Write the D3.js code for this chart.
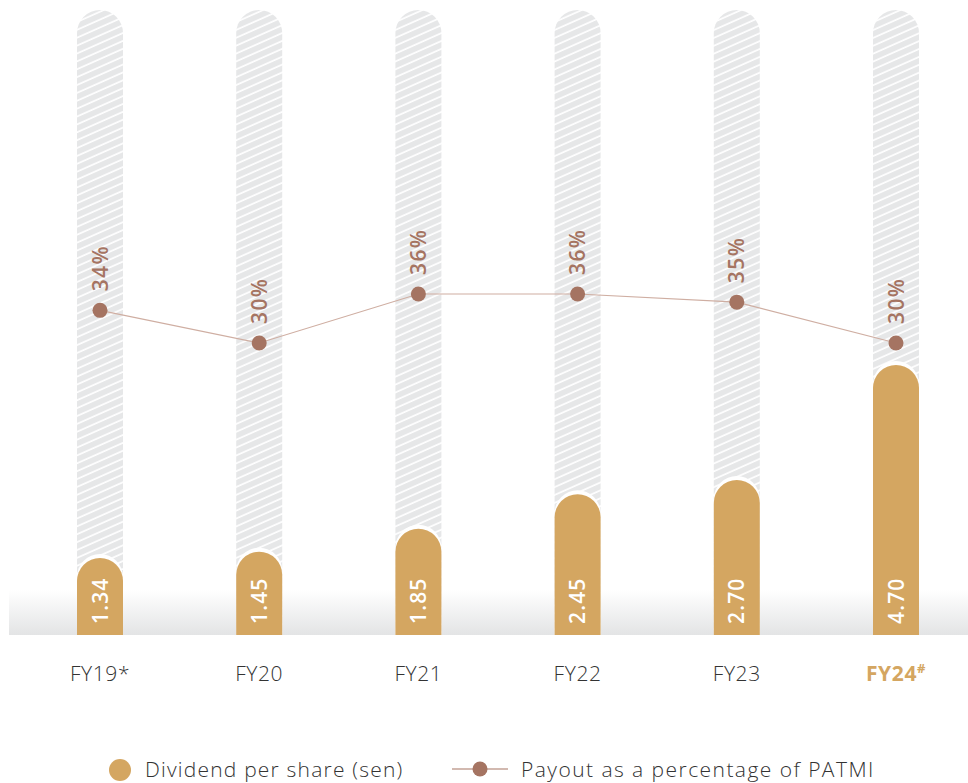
<!DOCTYPE html>
<html>
<head>
<meta charset="utf-8">
<script src="https://cdn.jsdelivr.net/npm/d3@7/dist/d3.min.js"></script>
<style>
  html, body { margin: 0; padding: 0; background: #fff; }
  svg { display: block; font-family: "Open Sans", Lato, sans-serif; }
</style>
</head>
<body>
<svg id="chart" width="968" height="783"></svg>
<script>
// Dividend per share (sen) and payout ratio (% of PATMI)
const years = ["FY19*", "FY20", "FY21", "FY22", "FY23", "FY24#"];
const dividend = [1.34, 1.45, 1.85, 2.45, 2.70, 4.70];
const payout = [34, 30, 36, 36, 35, 30];
const legendLabels = ["Dividend per share (sen)", "Payout as a percentage of PATMI"];

const gold = "#d4a661";
const brown = "#a57462";
const lineCol = "#cfaea2";
const hatchBg = "#e6e7e8";

const svg = d3.select("#chart");
const W = 968, H = 783;
const baseY = 635, topY = 10;
const barW = 46;

const x = d3.scalePoint().domain(years).range([100, 896]);
const y = d3.scaleLinear().domain([0, 4.70]).range([baseY, 365]);
const yp = d3.scaleLinear().domain([30, 36]).range([343, 294]);

const defs = svg.append("defs");
const pat = defs.append("pattern")
  .attr("id", "hatch")
  .attr("patternUnits", "userSpaceOnUse")
  .attr("width", 12).attr("height", 7.2)
  .attr("patternTransform", "rotate(-24)");
pat.append("rect").attr("width", 12).attr("height", 7.2).attr("fill", hatchBg);
pat.append("line").attr("x1", 0).attr("x2", 12).attr("y1", 1).attr("y2", 1)
  .attr("stroke", "#fff").attr("stroke-width", 1.7);

const grad = defs.append("linearGradient").attr("id", "floor")
  .attr("x1", 0).attr("x2", 0).attr("y1", 0).attr("y2", 1);
grad.append("stop").attr("offset", "0%").attr("stop-color", "#fff");
grad.append("stop").attr("offset", "100%").attr("stop-color", "#e3e4e5");

// rounded-top column path
function capsule(cx, top, bottom, w) {
  const rr = w / 2;
  return `M${cx - rr},${bottom} L${cx - rr},${top + rr} A${rr},${rr} 0 0 1 ${cx + rr},${top + rr} L${cx + rr},${bottom} Z`;
}

// floor shading under columns
svg.append("rect").attr("x", 9).attr("y", 590).attr("width", W - 9).attr("height", baseY - 590)
  .attr("fill", "url(#floor)");

// background hatched columns
svg.append("g").selectAll("path").data(years).join("path")
  .attr("d", d => capsule(x(d), topY, baseY, barW))
  .attr("fill", "url(#hatch)");

// white halo above each dividend column
svg.append("g").selectAll("path").data(dividend).join("path")
  .attr("d", (d, i) => capsule(x(years[i]), y(d) - 4, baseY, barW))
  .attr("fill", "#fff");

// dividend columns
svg.append("g").selectAll("path").data(dividend).join("path")
  .attr("d", (d, i) => capsule(x(years[i]), y(d), baseY, barW))
  .attr("fill", gold);

// dividend values inside columns
svg.append("g").selectAll("text").data(dividend).join("text")
  .attr("transform", (d, i) => `translate(${x(years[i]) + 7.5},${624}) rotate(-90)`)
  .attr("text-anchor", "start")
  .attr("fill", "#fff")
  .attr("font-size", 21)
  .attr("font-weight", 600)
  .attr("letter-spacing", 1.2)
  .text(d => d.toFixed(2));

// payout line
const pts = payout.map((v, i) => [x(years[i]), yp(v)]);
svg.append("path").attr("d", d3.line()(pts))
  .attr("fill", "none").attr("stroke", lineCol).attr("stroke-width", 1.2);
svg.append("g").selectAll("circle").data(pts).join("circle")
  .attr("cx", d => d[0]).attr("cy", d => d[1]).attr("r", 7.5).attr("fill", brown);

// payout labels
svg.append("g").selectAll("text").data(payout).join("text")
  .attr("transform", (d, i) => `translate(${x(years[i]) + 7.5},${yp(d) - 19}) rotate(-90)`)
  .attr("text-anchor", "start")
  .attr("fill", brown)
  .attr("font-size", 21)
  .attr("font-weight", 600)
  .attr("letter-spacing", 1.4)
  .text(d => d + "%");

// category labels
const xl = svg.append("g").selectAll("text").data(years).join("text")
  .attr("x", d => x(d)).attr("y", 681)
  .attr("text-anchor", "middle")
  .attr("font-size", 21)
  .attr("letter-spacing", 0.6)
  .attr("fill", d => d.endsWith("#") ? gold : "#333")
  .attr("font-weight", d => d.endsWith("#") ? 700 : 300);
xl.each(function (d) {
  const t = d3.select(this);
  if (d.endsWith("#")) {
    t.append("tspan").text(d.slice(0, -1));
    t.append("tspan").attr("font-size", 13).attr("dy", -8).text("#");
  } else {
    t.text(d);
  }
});

// legend
const lg = svg.append("g");
lg.append("circle").attr("cx", 120).attr("cy", 770).attr("r", 11).attr("fill", gold);
lg.append("text").attr("x", 145).attr("y", 777).attr("font-size", 21).attr("font-weight", 300)
  .attr("letter-spacing", 1.2).attr("fill", "#333").text(legendLabels[0]);
lg.append("line").attr("x1", 452).attr("x2", 508).attr("y1", 769).attr("y2", 769)
  .attr("stroke", brown).attr("stroke-width", 1.2);
lg.append("circle").attr("cx", 480).attr("cy", 769).attr("r", 7.5).attr("fill", brown);
lg.append("text").attr("x", 521).attr("y", 777).attr("font-size", 21).attr("font-weight", 300)
  .attr("letter-spacing", 1.45).attr("fill", "#333").text(legendLabels[1]);
</script>
</body>
</html>
